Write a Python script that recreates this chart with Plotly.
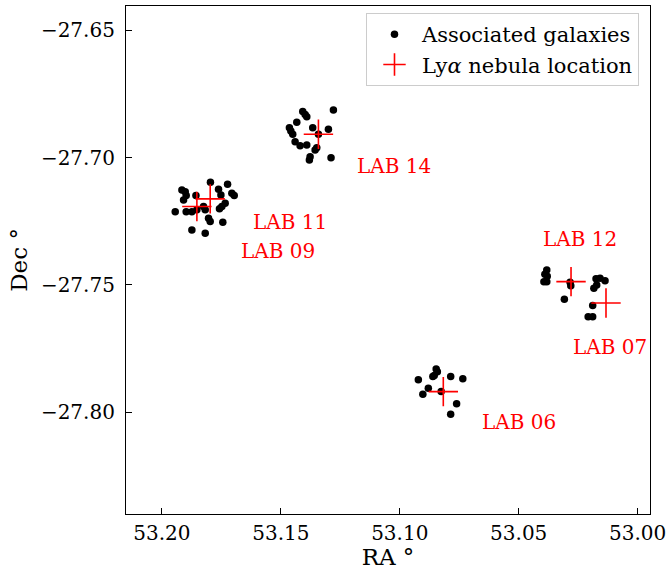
import plotly.graph_objects as go

# Associated galaxies (RA, Dec in degrees)
gal_ra = [
    # around LAB 09 / LAB 11
    53.1916, 53.1902, 53.1796, 53.1724, 53.1762, 53.1706, 53.1696, 53.1752,
    53.1857, 53.1909, 53.1734, 53.1748, 53.1758, 53.1944, 53.1898, 53.1874,
    53.1853, 53.1825, 53.1818, 53.1804, 53.1797, 53.1744, 53.1874, 53.1818,
    53.1898,
    # around LAB 14
    53.1408, 53.1398, 53.1391, 53.1279, 53.1433, 53.1464, 53.1458, 53.1450,
    53.1366, 53.1300, 53.1440, 53.1419, 53.1391, 53.1342, 53.1349, 53.1356,
    53.1377, 53.1380, 53.1289,
    # around LAB 06
    53.0847, 53.0842, 53.0861, 53.0855, 53.0922, 53.0786, 53.0735, 53.0880,
    53.0903, 53.0826, 53.0761, 53.0786,
    # around LAB 12 / LAB 07
    53.0382, 53.0390, 53.0394, 53.0382, 53.0380, 53.0284, 53.0281, 53.0308,
    53.0175, 53.0158, 53.0137, 53.0184, 53.0172, 53.0189, 53.0208, 53.0189,
]
gal_dec = [
    -27.7127, -27.7134, -27.7097, -27.7104, -27.7124, -27.7140, -27.7149, -27.7147,
    -27.7149, -27.7166, -27.7179, -27.7192, -27.7201, -27.7212, -27.7212, -27.7212,
    -27.7205, -27.7192, -27.7205, -27.7238, -27.7251, -27.7254, -27.7284, -27.7297,
    -27.7149,
    -27.6819, -27.6830, -27.6839, -27.6813, -27.6861, -27.6882, -27.6895, -27.6908,
    -27.6882, -27.6888, -27.6937, -27.6953, -27.6950, -27.6908, -27.6961, -27.6970,
    -27.6996, -27.7009, -27.7000,
    -27.7830, -27.7841, -27.7860, -27.7856, -27.7873, -27.7860, -27.7869, -27.7906,
    -27.7929, -27.7919, -27.7967, -27.8008,
    -27.7441, -27.7458, -27.7487, -27.7487, -27.7466, -27.7489, -27.7503, -27.7556,
    -27.7476, -27.7474, -27.7484, -27.7513, -27.7500, -27.7581, -27.7625, -27.7625,
]

# Lyman-alpha nebula positions
lab_names = ["LAB 09", "LAB 11", "LAB 14", "LAB 06", "LAB 12", "LAB 07"]
lab_ra = [53.1853, 53.1797, 53.1342, 53.0817, 53.0280, 53.0133]
lab_dec = [-27.7192, -27.7162, -27.6908, -27.7919, -27.7487, -27.7571]

# Label anchor points (left edge of each text)
label_ra = [53.1678, 53.1626, 53.1188, 53.0663, 53.0406, 53.0280]
label_dec = [-27.7366, -27.7254, -27.7033, -27.8039, -27.7319, -27.7742]

x_ticks = [53.20, 53.15, 53.10, 53.05, 53.00]
y_ticks = [-27.65, -27.70, -27.75, -27.80]

FONT = "DejaVu Serif"

fig = go.Figure()
fig.add_trace(go.Scatter(
    x=gal_ra, y=gal_dec, mode="markers", name="Associated galaxies",
    marker=dict(color="black", size=7.5, line=dict(width=0)),
))
fig.add_trace(go.Scatter(
    x=lab_ra, y=lab_dec, mode="markers", name="Ly<i>α</i> nebula location",
    marker=dict(symbol="cross-thin", size=21, color="red",
                line=dict(color="red", width=1.6)),
))

for name, lx, ly in zip(lab_names, label_ra, label_dec):
    fig.add_annotation(x=lx, y=ly, text=name, showarrow=False,
                       xanchor="left", yanchor="middle",
                       font=dict(family=FONT, size=20, color="red"))

axis_common = dict(
    showgrid=False, zeroline=False, showline=True, linecolor="black",
    linewidth=1.2, mirror=True, ticks="inside", ticklen=6, tickwidth=1,
    tickcolor="black", tickfont=dict(family=FONT, size=20, color="black"),
    automargin=False,
)

fig.update_xaxes(
    range=[53.2151, 52.9948], tickvals=x_ticks, tickformat=".2f",
    ticklabelstandoff=1,
    title=dict(text="RA °", font=dict(family=FONT, size=23, color="black"),
               standoff=10),
    **axis_common,
)
fig.update_yaxes(
    range=[-27.84, -27.6404], tickvals=y_ticks, tickformat=".2f",
    ticklabelstandoff=6,
    title=dict(text="Dec °", font=dict(family=FONT, size=23, color="black"),
               standoff=6),
    **axis_common,
)

fig.update_layout(
    width=667, height=570,
    margin=dict(l=126, r=17, t=6, b=56),
    plot_bgcolor="white", paper_bgcolor="white",
    font=dict(family=FONT, color="black"),
    showlegend=True,
    legend=dict(
        x=0.979, y=0.986, xanchor="right", yanchor="top",
        bgcolor="white", bordercolor="#cccccc", borderwidth=1,
        font=dict(family=FONT, size=21, color="black"),
        itemsizing="trace", itemwidth=45,
    ),
)

fig.write_html("out.html")
